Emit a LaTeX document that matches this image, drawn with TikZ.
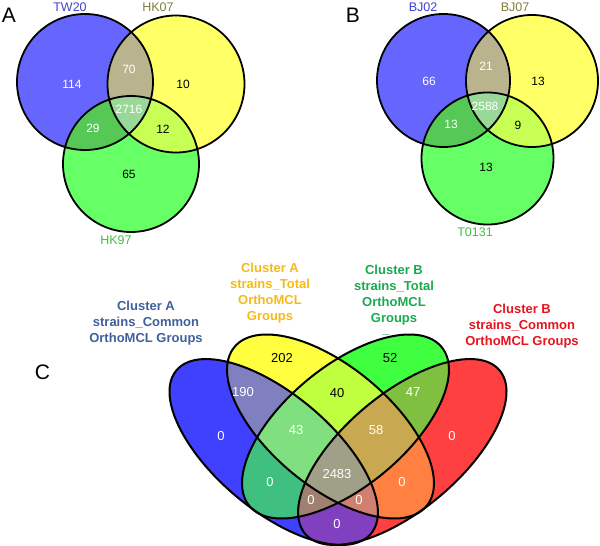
\documentclass[tikz,border=0pt]{standalone}
\usepackage{fontspec}
\setmainfont{Liberation Sans}
\usetikzlibrary{positioning}
\definecolor{vA}{HTML}{6666FF}
\definecolor{vB}{HTML}{FFFF66}
\definecolor{vC}{HTML}{66FF66}
\definecolor{vAB}{HTML}{BAB48E}
\definecolor{vAC}{HTML}{55C855}
\definecolor{vBC}{HTML}{C8FF55}
\definecolor{vABC}{HTML}{99D899}
\definecolor{qA}{HTML}{4040FF}
\definecolor{qB}{HTML}{FFFF40}
\definecolor{qC}{HTML}{40FF40}
\definecolor{qD}{HTML}{FF4040}
\definecolor{qAB}{HTML}{8080C0}
\definecolor{qAC}{HTML}{40C080}
\definecolor{qAD}{HTML}{8040C0}
\definecolor{qBC}{HTML}{C0FF40}
\definecolor{qBD}{HTML}{FF8040}
\definecolor{qCD}{HTML}{80C040}
\definecolor{qABC}{HTML}{80E080}
\definecolor{qABD}{HTML}{D08070}
\definecolor{qACD}{HTML}{A08070}
\definecolor{qBCD}{HTML}{C8A850}
\definecolor{qABCD}{HTML}{A0A088}
\definecolor{strBlue}{HTML}{4040D0}
\definecolor{strOlive}{HTML}{7F7F3F}
\definecolor{strGreen}{HTML}{40C040}
\definecolor{grpSteel}{HTML}{40609A}
\definecolor{grpGold}{HTML}{F5BA1A}
\definecolor{grpGreen}{HTML}{19AA50}
\definecolor{grpRed}{HTML}{E6141E}
\newcommand{\ciTW}{(85,82) circle [radius=68]}
\newcommand{\ciHKs}{(176,84) circle [radius=68.5]}
\newcommand{\ciHKn}{(131,164) circle [radius=68]}
\newcommand{\ciBJa}{(443.5,80.5) circle [radius=66.5]}
\newcommand{\ciBJb}{(532,81) circle [radius=66]}
\newcommand{\ciT}{(487.5,158.5) circle [radius=66]}
\newcommand{\elA}{[rotate around={-40:(273.7,452)}] (273.7,452) ellipse [x radius=127,y radius=58]}
\newcommand{\elB}{[rotate around={-39.6:(330.5,426.5)}] (330.5,426.5) ellipse [x radius=124.7,y radius=60.1]}
\newcommand{\elC}{[rotate around={39.6:(345.5,426.5)}] (345.5,426.5) ellipse [x radius=124.7,y radius=60.1]}
\newcommand{\elD}{[rotate around={40:(402.3,452)}] (402.3,452) ellipse [x radius=127,y radius=58]}
\newcommand{\vennthree}[3]{%
  \fill[vA] #1; \fill[vB] #2; \fill[vC] #3;
  \begin{scope} \clip #1; \fill[vAB] #2; \fill[vAC] #3; \end{scope}
  \begin{scope} \clip #2; \fill[vBC] #3; \end{scope}
  \begin{scope} \clip #1; \clip #2; \fill[vABC] #3; \end{scope}
  \draw[ring] #1 #2 #3;}

\begin{document}
\begin{tikzpicture}[x=1pt,y=-1pt,
	ring/.style={draw=black,line width=1.8pt},
	numw/.style={text=white,inner sep=0pt,font=\fontsize{12}{14}\selectfont},
	numk/.style={numw,text=black},
	qnumw/.style={text=white,inner sep=0pt,font=\fontsize{13}{15}\selectfont},
	qnumk/.style={qnumw,text=black},
	strain/.style={inner sep=0pt,font=\fontsize{12.5}{14}\selectfont},
	group/.style={inner sep=0pt,align=center,font=\bfseries\fontsize{13}{16}\selectfont},
	panel/.style={inner sep=0pt,font=\fontsize{21}{24}\selectfont}]
	\useasboundingbox (0,0) rectangle (600,546);
	\vennthree{\ciTW}{\ciHKs}{\ciHKn}
	\vennthree{\ciBJa}{\ciBJb}{\ciT}
	\fill[qA] \elA; \fill[qB] \elB; \fill[qC] \elC; \fill[qD] \elD;
	\begin{scope} \clip \elA; \fill[qAB] \elB; \fill[qAC] \elC; \fill[qAD] \elD; \end{scope}
	\begin{scope} \clip \elB; \fill[qBC] \elC; \fill[qBD] \elD; \end{scope}
	\begin{scope} \clip \elC; \fill[qCD] \elD; \end{scope}
	\begin{scope} \clip \elA; \clip \elB; \fill[qABC] \elC; \fill[qABD] \elD; \end{scope}
	\begin{scope} \clip \elA; \clip \elC; \fill[qACD] \elD; \end{scope}
	\begin{scope} \clip \elB; \clip \elC; \fill[qBCD] \elD; \end{scope}
	\begin{scope} \clip \elA; \clip \elB; \clip \elC; \fill[qABCD] \elD; \end{scope}
	\draw[ring,line width=2pt] \elA; \draw[ring,line width=2pt] \elB;
	\draw[ring,line width=2pt] \elC; \draw[ring,line width=2pt] \elD;
	\node[panel] (panelA) at (9,15) {A};
	\node[panel] (panelB) at (353,15.5) {B};
	\node[panel] (panelC) at (42.5,372.5) {C};
	\node[strain,text=strBlue] (labTW) at (70,7) {TW20};
	\node[strain,text=strOlive] (labHKs) at (158,7) {HK07};
	\node[strain,text=strGreen] (labHKn) at (116,240) {HK97};
	\node[strain,text=strBlue] (labBJa) at (423,7) {BJ02};
	\node[strain,text=strOlive] (labBJb) at (515,7) {BJ07};
	\node[strain,text=strGreen] (labT) at (475,232) {T0131};
	\node[numw] (aTW) at (72,84) {114};
	\node[numw] (aTWHKs) at (129,69) {70};
	\node[numk] (aHKs) at (183,84) {10};
	\node[numw] (aAll) at (129,109) {2716};
	\node[numw] (aTWHKn) at (93,128) {29};
	\node[numk] (aHKsHKn) at (163,129) {12};
	\node[numk] (aHKn) at (129,174) {65};
	\node[numw] (bBJa) at (429,81) {66};
	\node[numw] (bBJab) at (486,66) {21};
	\node[numk] (bBJb) at (538,81) {13};
	\node[numw] (bAll) at (485,106) {2588};
	\node[numw] (bBJaT) at (451,124) {13};
	\node[numk] (bBJbT) at (518,125) {9};
	\node[numk] (bT) at (486,167) {13};
	\node[group,text=grpSteel] (comA) at (146,323) {Cluster A\\strains\_Common\\OrthoMCL Groups};
	\node[group,text=grpGold] (totA) at (270,293.5) {Cluster A\\strains\_Total\\OrthoMCL\\Groups};
	\node[group,text=grpGreen] (totB) at (394,295.5) {Cluster B\\strains\_Total\\OrthoMCL\\Groups};
	\node[group,text=grpGreen,anchor=base] (dashB) at (386,333.5) {\_};
	\node[group,text=grpRed] (comB) at (522,326.5) {Cluster B\\strains\_Common\\OrthoMCL Groups};
	\node[qnumw] (cA) at (221,436) {0};
	\node[qnumw] (cAB) at (243,392) {190};
	\node[qnumk] (cB) at (282,358) {202};
	\node[qnumk] (cBC) at (337,393) {40};
	\node[qnumk] (cC) at (390,358) {52};
	\node[qnumw] (cCD) at (413,392) {47};
	\node[qnumw] (cD) at (452,436) {0};
	\node[qnumw] (cABC) at (296,430) {43};
	\node[qnumw] (cBCD) at (376,430) {58};
	\node[qnumw] (cABCD) at (337,474) {2483};
	\node[qnumw] (cAC) at (270,482) {0};
	\node[qnumw] (cBD) at (402,482) {0};
	\node[qnumw] (cACD) at (311,500) {0};
	\node[qnumw] (cABD) at (359,500) {0};
	\node[qnumw] (cAD) at (337,524) {0};
\end{tikzpicture}
\end{document}
